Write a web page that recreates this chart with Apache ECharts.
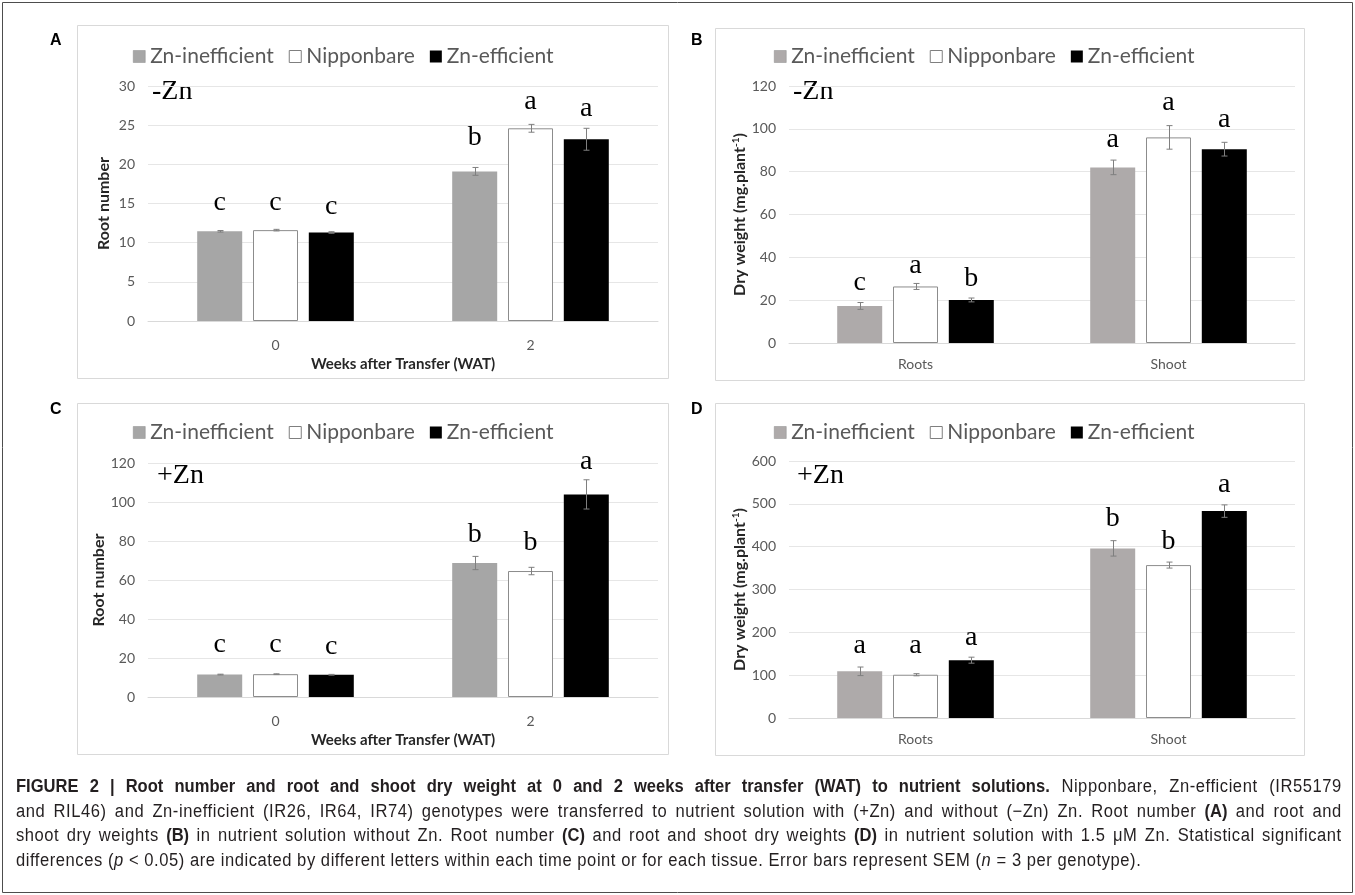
<!DOCTYPE html>
<html><head><meta charset="utf-8">
<script src="https://cdn.jsdelivr.net/npm/echarts@6/dist/echarts.min.js"></script>
<style>
html,body{margin:0;padding:0;background:#fff;}
#chart{position:absolute;left:0;top:0;width:1355px;height:895px;}
#cap{position:absolute;left:16px;top:774px;width:1441px;transform:scaleX(0.92);transform-origin:0 0;font-family:'Liberation Sans',Arial,sans-serif;font-size:18px;line-height:24.5px;color:#231f20;letter-spacing:0.6px;}
#cap .j{text-align:justify;text-align-last:justify;}
#cap b{font-weight:bold;letter-spacing:0;}
</style></head>
<body>
<div id="chart"></div>
<div id="cap">
<div class="j"><b>FIGURE 2 | Root number and root and shoot dry weight at 0 and 2 weeks after transfer (WAT) to nutrient solutions.</b> Nipponbare, Zn-efficient (IR55179</div>
<div class="j">and RIL46) and Zn-inefficient (IR26, IR64, IR74) genotypes were transferred to nutrient solution with (+Zn) and without (−Zn) Zn. Root number <b>(A)</b> and root and</div>
<div class="j">shoot dry weights <b>(B)</b> in nutrient solution without Zn. Root number <b>(C)</b> and root and shoot dry weights <b>(D)</b> in nutrient solution with 1.5 μM Zn. Statistical significant</div>
<div>differences (<i>p</i> &lt; 0.05) are indicated by different letters within each time point or for each tissue. Error bars represent SEM (<i>n</i> = 3 per genotype).</div>
</div>
<script>
// ---------- DATA ----------
const seriesNames = ['Zn-inefficient', 'Nipponbare', 'Zn-efficient'];
const catsWeeks = ['0', '2'];
const catsTissue = ['Roots', 'Shoot'];

// Panel A: root number, -Zn
const aIneff = [11.45, 19.1];
const aNip = [11.6, 24.6];
const aEff = [11.3, 23.2];
const aIneffErr = [0.1, 0.5];
const aNipErr = [0.1, 0.5];
const aEffErr = [0.1, 1.4];
const aLetters = [['c', 'b'], ['c', 'a'], ['c', 'a']];
const aLetterY = [[15.1, 23.4], [15.1, 28.0], [14.6, 27.1]];
const aTicks = [0, 30, 5];

// Panel B: dry weight, -Zn
const bIneff = [17.3, 82];
const bNip = [26.4, 96];
const bEff = [20.1, 90.5];
const bIneffErr = [1.6, 3.4];
const bNipErr = [1.4, 5.5];
const bEffErr = [0.9, 3.2];
const bLetters = [['c', 'a'], ['a', 'a'], ['b', 'a']];
const bLetterY = [[28.2, 95], [36, 112], [30, 104.4]];
const bTicks = [0, 120, 20];

// Panel C: root number, +Zn
const cIneff = [11.5, 68.7];
const cNip = [11.7, 64.6];
const cEff = [11.4, 103.9];
const cIneffErr = [0.2, 3.4];
const cNipErr = [0.2, 1.9];
const cEffErr = [0.2, 7.5];
const cLetters = [['c', 'b'], ['c', 'b'], ['c', 'a']];
const cLetterY = [[26.8, 83.2], [26.8, 79], [26.0, 120.8]];
const cTicks = [0, 120, 20];

// Panel D: dry weight, +Zn
const dIneff = [109, 396];
const dNip = [101, 357];
const dEff = [135, 483];
const dIneffErr = [10, 18];
const dNipErr = [2.5, 7];
const dEffErr = [7, 14.5];
const dLetters = [['a', 'b'], ['a', 'b'], ['a', 'a']];
const dLetterY = [[170, 466], [170, 411], [188, 544]];
const dTicks = [0, 600, 100];

// ---------- STYLE ----------
const BAR_W = 45, BAR_GAP = 0.24;
const GRAY1 = '#A6A6A6', GRAY2 = '#AEAAAA';
const WHITE_BORDER = '#8C8C8C';
const ERR_COLOR = '#7F7F7F';
const LABEL_COLOR = '#595959';
const GRID_COLOR = '#E6E6E6';
const SANS = 'Lato';
const SERIF = 'Liberation Serif';

const panels = [
  { vals: [aIneff, aNip, aEff], errs: [aIneffErr, aNipErr, aEffErr], letters: aLetters, letterY: aLetterY, ticks: aTicks,
    cats: catsWeeks, gray: GRAY1, grid: { left: 148, top: 86, width: 510, height: 235 },
    yName: 'Root number', yGap: 36, xName: 'Weeks after Transfer (WAT)', xGap: 36, xMargin: 17,
    legend: { left: 128, top: 41 }, tag: 'A', tagPos: [50, 41], zn: '-Zn', znPos: [152, 92],
    card: [77, 25, 591, 353] },
  { vals: [bIneff, bNip, bEff], errs: [bIneffErr, bNipErr, bEffErr], letters: bLetters, letterY: bLetterY, ticks: bTicks,
    cats: catsTissue, gray: GRAY2, grid: { left: 789, top: 86, width: 506, height: 257 },
    yName: 'Dry weight (mg.plant{sup|-1})', yGap: 39, xName: '', xGap: 0, xMargin: 14,
    legend: { left: 769, top: 41 }, tag: 'B', tagPos: [691, 41], zn: '-Zn', znPos: [793, 92],
    card: [715, 28, 589, 352] },
  { vals: [cIneff, cNip, cEff], errs: [cIneffErr, cNipErr, cEffErr], letters: cLetters, letterY: cLetterY, ticks: cTicks,
    cats: catsWeeks, gray: GRAY1, grid: { left: 148, top: 463, width: 510, height: 234 },
    yName: 'Root number', yGap: 36, xName: 'Weeks after Transfer (WAT)', xGap: 36, xMargin: 17,
    legend: { left: 128, top: 417 }, tag: 'C', tagPos: [50, 410], zn: '+Zn', znPos: [157, 476],
    card: [77, 403, 591, 351] },
  { vals: [dIneff, dNip, dEff], errs: [dIneffErr, dNipErr, dEffErr], letters: dLetters, letterY: dLetterY, ticks: dTicks,
    cats: catsTissue, gray: GRAY2, grid: { left: 789, top: 461, width: 506, height: 257 },
    yName: 'Dry weight (mg.plant{sup|-1})', yGap: 39, xName: '', xGap: 0, xMargin: 14,
    legend: { left: 769, top: 417 }, tag: 'D', tagPos: [691, 410], zn: '+Zn', znPos: [797, 476],
    card: [715, 403, 589, 352] }
];

function barColors(p) { return [p.gray, '#FFFFFF', '#000000']; }

const option = {
  animation: false,
  backgroundColor: '#fff',
  grid: [], xAxis: [], yAxis: [], legend: [], series: [], graphic: []
};

// outer frame
option.graphic.push({ type: 'rect', shape: { x: 2.5, y: 2.5, width: 1350, height: 890 },
  style: { fill: 'none', stroke: '#4d4d4d', lineWidth: 1 }, z: -10, silent: true });

panels.forEach((p, pi) => {
  const cols = barColors(p);
  option.graphic.push({ type: 'rect', shape: { x: p.card[0] + 0.5, y: p.card[1] + 0.5, width: p.card[2], height: p.card[3] },
    style: { fill: '#fff', stroke: '#D9D9D9', lineWidth: 1 }, z: -5, silent: true });
  option.graphic.push({ type: 'text', x: p.tagPos[0], y: p.tagPos[1],
    style: { text: p.tag, font: 'bold 16px "Liberation Sans", Arial', fill: '#000', verticalAlign: 'middle' }, silent: true });
  option.graphic.push({ type: 'text', x: p.znPos[0], y: p.znPos[1],
    style: { text: p.zn, font: '28px "' + SERIF + '"', fill: '#000', verticalAlign: 'middle' }, silent: true });

  option.grid.push(Object.assign({ containLabel: false }, p.grid));
  option.xAxis.push({
    type: 'category', gridIndex: pi, data: p.cats,
    axisTick: { show: false },
    axisLine: { lineStyle: { color: '#D9D9D9', width: 1 } },
    axisLabel: { color: LABEL_COLOR, fontSize: 14, fontFamily: SANS, margin: p.xMargin },
    name: p.xName, nameLocation: 'middle', nameGap: p.xGap,
    nameTextStyle: { color: '#262626', fontSize: 15, fontWeight: 'bold', fontFamily: SANS }
  });
  option.yAxis.push({
    type: 'value', gridIndex: pi, min: p.ticks[0], max: p.ticks[1], interval: p.ticks[2],
    axisLine: { show: false }, axisTick: { show: false },
    splitLine: { lineStyle: { color: GRID_COLOR, width: 1 } },
    axisLabel: { color: LABEL_COLOR, fontSize: 14, fontFamily: SANS, margin: 13 },
    name: p.yName, nameLocation: 'middle', nameGap: p.yGap, nameRotate: 90,
    nameTextStyle: { color: '#262626', fontSize: 16, fontWeight: 'bold', fontFamily: SANS,
      rich: { sup: { fontSize: 10, fontWeight: 'bold', fontFamily: SANS, color: '#262626', verticalAlign: 'top', padding: [0, 0, 8, 0] } } }
  });
  option.legend.push({
    left: p.legend.left, top: p.legend.top, orient: 'horizontal',
    icon: 'rect', itemWidth: 12, itemHeight: 12, itemGap: 15,
    selectedMode: false,
    textStyle: { color: LABEL_COLOR, fontSize: 21, fontFamily: SANS },
    data: [
      { name: seriesNames[0], itemStyle: { color: p.gray, borderColor: '#8a8a8a', borderWidth: 0.5 } },
      { name: seriesNames[1], itemStyle: { color: '#fff', borderColor: '#7f7f7f', borderWidth: 1 } },
      { name: seriesNames[2], itemStyle: { color: '#000' } }
    ]
  });
  seriesNames.forEach((nm, s) => {
    option.series.push({
      type: 'bar', name: nm, xAxisIndex: pi, yAxisIndex: pi,
      barWidth: BAR_W, barGap: (BAR_GAP * 100) + '%',
      data: p.vals[s],
      itemStyle: s === 1 ? { color: '#fff', borderColor: WHITE_BORDER, borderWidth: 1 } : { color: cols[s] },
      z: 2
    });
  });
  // error bars
  const errData = [];
  p.vals.forEach((arr, s) => arr.forEach((v, c) => errData.push([c, v, p.errs[s][c], s])));
  option.series.push({
    type: 'custom', xAxisIndex: pi, yAxisIndex: pi, silent: true, z: 5,
    data: errData, encode: { x: 0, y: 1 },
    renderItem: function (params, api) {
      const c = api.value(0), v = api.value(1), e = api.value(2), s = api.value(3);
      const off = (s - 1) * BAR_W * (1 + BAR_GAP);
      const top = api.coord([c, v + e]), bot = api.coord([c, v - e]);
      const x = Math.round(top[0] + off) + 0.5;
      const st = { stroke: ERR_COLOR, lineWidth: 1 };
      return { type: 'group', children: [
        { type: 'line', shape: { x1: x, y1: top[1], x2: x, y2: bot[1] }, style: st },
        { type: 'line', shape: { x1: x - 3, y1: top[1], x2: x + 3, y2: top[1] }, style: st },
        { type: 'line', shape: { x1: x - 3, y1: bot[1], x2: x + 3, y2: bot[1] }, style: st }
      ] };
    }
  });
  // significance letters
  const letData = [], letText = [];
  p.letterY.forEach((arr, s) => arr.forEach((y, c) => { letData.push([c, y, s]); letText.push(p.letters[s][c]); }));
  option.series.push({
    type: 'custom', xAxisIndex: pi, yAxisIndex: pi, silent: true, z: 6,
    data: letData, encode: { x: 0, y: 1 },
    renderItem: function (params, api) {
      const c = api.value(0), y = api.value(1), s = api.value(2);
      const off = (s - 1) * BAR_W * (1 + BAR_GAP);
      const pt = api.coord([c, y]);
      return { type: 'text', x: pt[0] + off, y: pt[1],
        style: { text: letText[params.dataIndex], fill: '#000', fontSize: 28, fontFamily: SERIF, align: 'center', verticalAlign: 'middle' } };
    }
  });
});

const chart = echarts.init(document.getElementById('chart'), null, { renderer: 'canvas' });
chart.setOption(option);
</script>
</body></html>
